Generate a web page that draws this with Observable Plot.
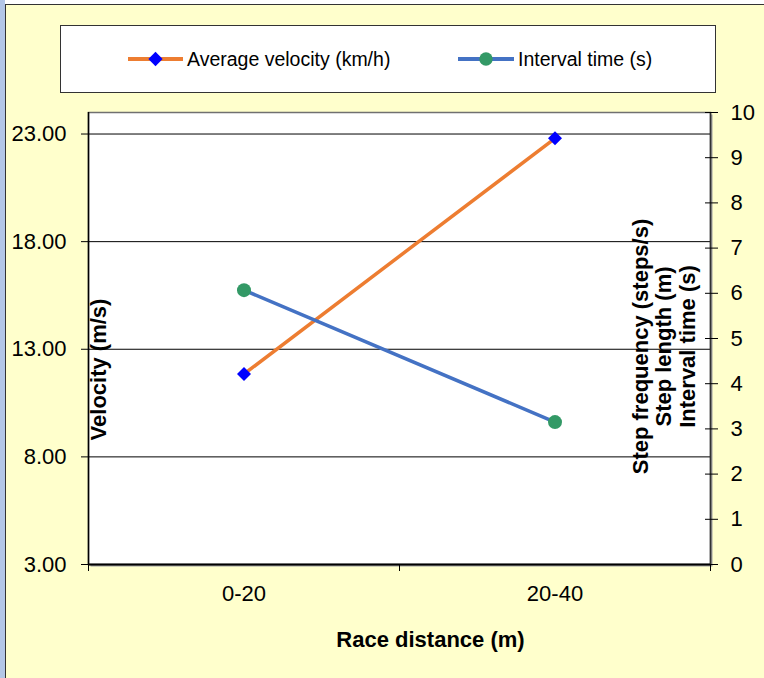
<!DOCTYPE html>
<html><head><meta charset="utf-8">
<script src="https://cdn.jsdelivr.net/npm/d3@7"></script>
<script src="https://cdn.jsdelivr.net/npm/@observablehq/plot@0.6"></script>
<style>
html,body{margin:0;padding:0;background:#fff;}
#chart{position:relative;width:764px;height:678px;overflow:hidden;font-family:"Liberation Sans",Arial,sans-serif;}
#strip{position:absolute;left:0;top:0;width:5px;height:678px;background:#B4C7E7;}
#area{position:absolute;left:5px;top:4px;width:759px;height:674px;background:#FFFFCC;border-left:1.5px solid #333;border-top:1.5px solid #333;box-sizing:border-box;}
#plot{position:absolute;left:0;top:0;}
#legend{position:absolute;left:60px;top:25px;}
</style></head><body>
<div id="chart"><div id="strip"></div><div id="area"></div><div id="plot"></div><div id="legend"></div></div>
<script>
const categories = ["0-20", "20-40"];
const velocityKmh = [11.85, 22.8];
const intervalTime = [6.07, 3.15];
const leftTicks = [3, 8, 13, 18, 23];
const rightTicks = [0, 1, 2, 3, 4, 5, 6, 7, 8, 9, 10];
const seriesNames = ["Average velocity (km/h)", "Interval time (s)"];
const lineColors = ["#ED7D31", "#4472C4"];
const markerColors = ["#0000FF", "#339966"];
const xTitle = "Race distance (m)";
const yLeftTitle = "Velocity (m/s)";
const yRightTitle = ["Step frequency (steps/s)", "Step length (m)", "Interval time (s)"];
const leftDomain = [3, 24];
const rightDomain = [0, 10];

const k = (leftDomain[1] - leftDomain[0]) / (rightDomain[1] - rightDomain[0]);
const toLeft = v => leftDomain[0] + (v - rightDomain[0]) * k;
const fromLeft = v => rightDomain[0] + (v - leftDomain[0]) / k;

const vel = categories.map((c, i) => ({x: i + 0.5, y: velocityKmh[i]}));
const itv = categories.map((c, i) => ({x: i + 0.5, y: toLeft(intervalTime[i])}));
const font = '"Liberation Sans", Arial, sans-serif';

const chart = Plot.plot({
  width: 764, height: 678,
  marginLeft: 88, marginRight: 54, marginTop: 112, marginBottom: 114,
  style: {background: "transparent", fontFamily: font, fontSize: "22px", color: "#000", overflow: "visible"},
  x: {type: "linear", domain: [0, categories.length]},
  y: {type: "linear", domain: leftDomain},
  marks: [
    Plot.frame({fill: "#a0a0a0", dx: 2, dy: 2}),
    Plot.frame({fill: "white", stroke: "#707070", strokeWidth: 1.5}),
    Plot.ruleY(leftTicks.slice(1), {stroke: "#000", strokeWidth: 1}),
    Plot.axisY({anchor: "left", ticks: leftTicks, tickFormat: d3.format(".2f"), tickSize: 7, tickPadding: 15, fontSize: 22, label: null}),
    Plot.ruleX([0], {stroke: "#000", strokeWidth: 1.5}),
    Plot.ruleX([categories.length], {stroke: "#333", strokeWidth: 1.5}),
    Plot.axisY({anchor: "right", ticks: rightTicks.map(toLeft), tickFormat: () => "", tickSize: 13, dx: -6, label: null}),
    Plot.axisY({anchor: "right", ticks: rightTicks.map(toLeft), tickFormat: d => String(Math.round(fromLeft(d))), tickSize: 0, tickPadding: 20, fontSize: 22, label: null}),
    Plot.axisX({ticks: d3.range(categories.length + 1), tickFormat: () => "", tickSize: 7, label: null}),
    Plot.axisX({ticks: categories.map((c, i) => i + 0.5), tickFormat: d => categories[Math.floor(d)], tickSize: 0, tickPadding: 21, fontSize: 22, label: null}),
    Plot.ruleY([leftDomain[0]], {stroke: "#000", strokeWidth: 2}),
    Plot.line(vel, {x: "x", y: "y", stroke: lineColors[0], strokeWidth: 3.5}),
    Plot.line(itv, {x: "x", y: "y", stroke: lineColors[1], strokeWidth: 3.5}),
    Plot.dot(vel, {x: "x", y: "y", symbol: "diamond2", r: 6.3, fill: markerColors[0], stroke: "none"}),
    Plot.dot(itv, {x: "x", y: "y", symbol: "circle", r: 7, fill: markerColors[1], stroke: "none"}),
    Plot.text([xTitle], {text: d => d, frameAnchor: "top-left", dx: 342, dy: 527, textAnchor: "middle", lineAnchor: "middle", fontWeight: "bold", fontSize: 22}),
    Plot.text([yLeftTitle], {text: d => d, frameAnchor: "top-left", dx: 10, dy: 257, rotate: -90, textAnchor: "middle", lineAnchor: "middle", fontWeight: "bold", fontSize: 22}),
    Plot.text([yRightTitle.join("\n")], {text: d => d, frameAnchor: "top-left", dx: 575, dy: 234, rotate: -90, textAnchor: "middle", lineAnchor: "middle", lineHeight: 1.07, fontWeight: "bold", fontSize: 22})
  ]
});
document.getElementById("plot").appendChild(chart);

// Legend
const lw = 656, lh = 68;
const svg = d3.select("#legend").append("svg").attr("width", lw).attr("height", lh).style("display", "block");
svg.append("rect").attr("x", 0.5).attr("y", 0.5).attr("width", lw - 1).attr("height", lh - 1)
  .attr("fill", "white").attr("stroke", "#333").attr("stroke-width", 1);
const items = [
  {x0: 68, x1: 123, name: seriesNames[0], line: lineColors[0], marker: markerColors[0], sym: d3.symbolDiamond2, size: 130},
  {x0: 398, x1: 454, name: seriesNames[1], line: lineColors[1], marker: markerColors[1], sym: d3.symbolCircle, size: 140}
];
const cy = 34;
items.forEach(it => {
  svg.append("line").attr("x1", it.x0).attr("x2", it.x1).attr("y1", cy).attr("y2", cy)
    .attr("stroke", it.line).attr("stroke-width", 4);
  svg.append("path").attr("d", d3.symbol(it.sym, it.size)()).attr("transform", `translate(${(it.x0 + it.x1) / 2},${cy})`)
    .attr("fill", it.marker);
  svg.append("text").attr("x", it.x1 + 4).attr("y", cy).attr("dy", "0.35em")
    .attr("font-family", font).attr("font-size", 19.5).attr("fill", "#000").text(it.name);
});
</script>
</body></html>
